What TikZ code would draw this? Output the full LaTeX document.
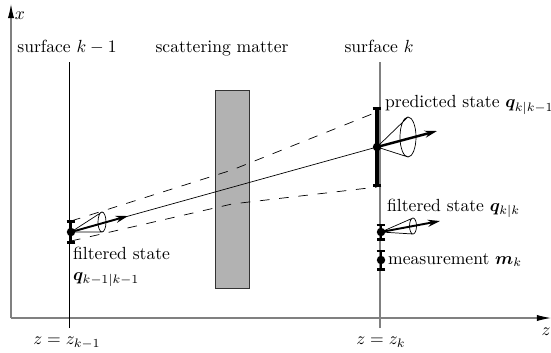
\documentclass[tikz,border=0pt]{standalone}
\usepackage{amsmath,bm}
\usetikzlibrary{arrows.meta}

\begin{document}
\begin{tikzpicture}[x=0.2cm,y=0.2cm,>=Latex,
  axis/.style={gray,semithick,-{Latex[black,length=8pt,width=3.5pt]}},
  errbar/.style={line width=1.5pt,{Bar[width=5pt]}-{Bar[width=5pt]}},
  hit/.style={circle,fill,inner sep=0pt,minimum size=4.8pt},
  dirarrow/.style={line width=1.1pt,-{Stealth[length=7pt,width=4pt]}},
  band/.style={dash pattern=on 5.5pt off 5.5pt},
  lbl/.style={anchor=base}]
  \useasboundingbox (0,0) rectangle (55.1,35.2);
  % axes
  \coordinate (o) at (1.1,3.4);
  \coordinate (zend) at (55.1,3.4);
  \coordinate (xend) at (1.1,34.8);
  \draw[axis] (o) -- (zend);
  \draw[axis] (o) -- (xend);
  \node (zlab) at (54.6,2.0) {$z$};
  \node (xlab) at (2.0,33.6) {$x$};
  % surfaces and matter
  \coordinate (sa) at (6.9,2.4);
  \coordinate (sa top) at (6.9,29.0);
  \coordinate (sb) at (38.0,2.4);
  \coordinate (sb top) at (38.0,29.0);
  \draw (sa) -- (sa top);
  \draw[gray,semithick] (sb) -- (sb top);
  \node[draw=black!80,fill=black!30,minimum width=0.68cm,minimum height=3.96cm,inner sep=0pt] (matter) at (23.2,16.3) {};
  \node[lbl] (sa lab) at (6.7,30.0) {surface $k-1$};
  \node[lbl] (mat lab) at (22.2,30.0) {scattering matter};
  \node[lbl] (sb lab) at (37.9,30.0) {surface $k$};
  \node[lbl] (za lab) at (6.7,0.75) {$z=z_{k-1}$};
  \node[lbl] (zb lab) at (38.1,0.75) {$z=z_k$};
  % states
  \coordinate (qa) at (7.1,12.0);
  \coordinate (qp) at (37.7,20.5);
  \coordinate (qf) at (38.1,12.0);
  \coordinate (mk) at (38.1,9.2);
  % track and its spread
  \draw (qa) -- (qp);
  \draw[band] (7.1,13.1) -- (23.2,18.2) -- (37.7,24.0);
  \draw[band] (7.1,11.1) -- (23.2,14.8) -- (37.7,16.5);
  % error bars
  \draw[errbar] (qa) ++(0,-1.2) -- ++(0,2.4);
  \draw[errbar,line width=1.9pt] (qp) ++(0,-4.0) -- ++(0,8.0);
  \draw[errbar] (qf) ++(0,-0.85) -- ++(0,1.7);
  \draw[errbar] (mk) ++(0,-1.05) -- ++(0,2.1);
  % direction cones
  \draw (qa) -- (10.2,14.0) (qa) -- (10.2,12.0) (10.2,13.0) ellipse (0.4 and 1.0);
  \draw[dirarrow] (qa) -- (12.8,13.6);
  \draw (qp) -- (40.8,23.5) (qp) -- (40.8,19.5) (40.8,21.5) ellipse (0.8 and 2.0);
  \draw[dirarrow,line width=1.4pt] (qp) -- (43.7,22.1);
  \draw (qf) -- (41.3,13.4) (qf) -- (41.3,11.8) (41.3,12.6) ellipse (0.35 and 0.8);
  \draw[dirarrow] (qf) -- (44.0,13.1);
  % points
  \node[hit] (qa dot) at (qa) {};
  \node[hit] (qp dot) at (qp) {};
  \node[hit] (qf dot) at (qf) {};
  \node[hit] (mk dot) at (mk) {};
  % labels
  \node[anchor=west] (qp lab) at (37.9,24.7) {predicted state $\bm{q}_{k|k-1}$};
  \node[anchor=west] (qf lab) at (38.1,14.4) {filtered state $\bm{q}_{k|k}$};
  \node[anchor=west] (mk lab) at (38.2,9.2) {measurement $\bm{m}_k$};
  \node[anchor=west,align=left] (qa lab) at (6.7,8.5) {filtered state\\$\bm{q}_{k-1|k-1}$};
\end{tikzpicture}
\end{document}
